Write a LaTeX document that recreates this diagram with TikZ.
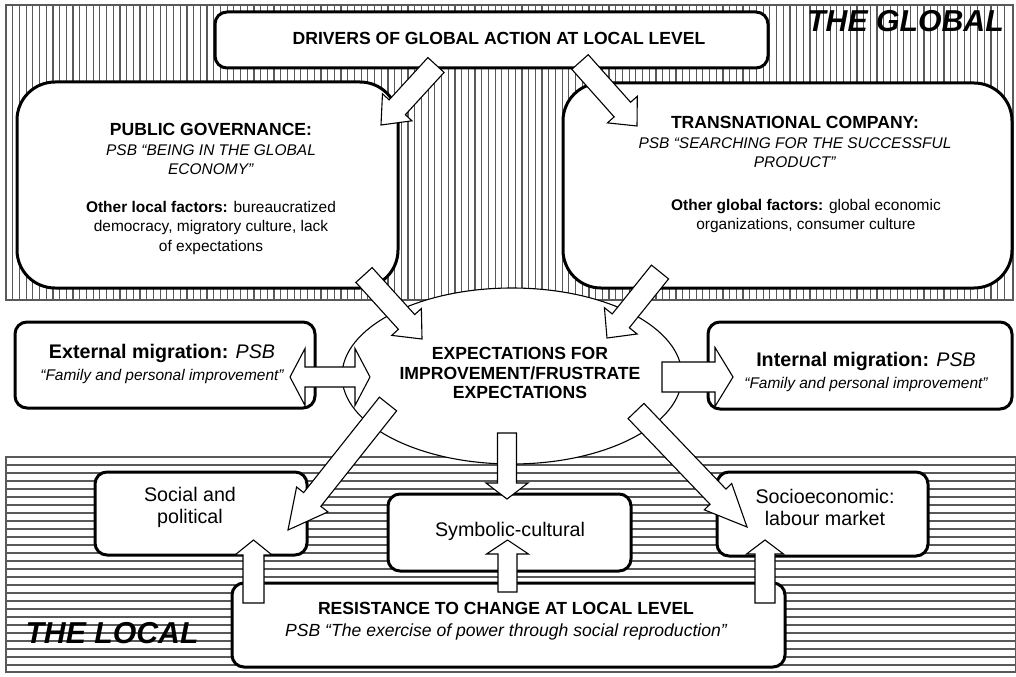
\documentclass[tikz,border=0pt]{standalone}
\usepackage{fontspec}
\setmainfont{Liberation Sans}
\usetikzlibrary{calc, shapes.geometric}

\newcommand{\pxu}{0.025cm}
\newcommand{\hd}{\fontsize{12.5}{13.9}\selectfont\bfseries}
% white block arrow: tail, tip, shaft half width, head half width, head length
\newcommand{\fatarrow}[5]{%
  \coordinate (fa-base) at ($(#2)!#5*\pxu!(#1)$);
  \draw[fatarrow] ($(#1)!#3*\pxu!90:(#2)$) -- ($(fa-base)!#3*\pxu!-90:(#1)$)
    -- ($(fa-base)!#4*\pxu!-90:(#1)$) -- (#2) -- ($(fa-base)!#4*\pxu!90:(#1)$)
    -- ($(fa-base)!#3*\pxu!90:(#1)$) -- ($(#1)!#3*\pxu!-90:(#2)$) -- cycle;}
% same with a head at both ends
\newcommand{\fatdarrow}[5]{%
  \coordinate (fa-b1) at ($(#1)!#5*\pxu!(#2)$);
  \coordinate (fa-b2) at ($(#2)!#5*\pxu!(#1)$);
  \draw[fatarrow] (#1) -- ($(fa-b1)!#4*\pxu!90:(#2)$) -- ($(fa-b1)!#3*\pxu!90:(#2)$)
    -- ($(fa-b2)!#3*\pxu!-90:(#1)$) -- ($(fa-b2)!#4*\pxu!-90:(#1)$) -- (#2)
    -- ($(fa-b2)!#4*\pxu!90:(#1)$) -- ($(fa-b2)!#3*\pxu!90:(#1)$)
    -- ($(fa-b1)!#3*\pxu!-90:(#2)$) -- ($(fa-b1)!#4*\pxu!-90:(#2)$) -- cycle;}

\begin{document}
\begin{tikzpicture}[x=\pxu, y=-\pxu,
    region/.style={draw=black!65, line width=1.3*\pxu},
    stripe/.style={black!65, line width=1.2*\pxu},
    lbox/.style={draw, fill=white, line width=3*\pxu, rounded corners=12*\pxu, inner sep=0pt},
    bigbox/.style={lbox, rounded corners=38*\pxu},
    fatarrow/.style={draw, fill=white, line width=1.1*\pxu, line join=miter},
    txt/.style={align=center, inner sep=0pt, font=\fontsize{11}{13.9}\selectfont},
    midtxt/.style={align=center, inner sep=0pt, font=\fontsize{14}{15.6}\selectfont},
    bigtxt/.style={inner sep=0pt, font=\fontsize{21.5}{24}\selectfont\bfseries\itshape}]
    \useasboundingbox (0,0) rectangle (1016,676);
    % the global: vertical stripes
    \foreach \x in {12.7,19.4,...,1010}
    \draw[stripe] (\x,5) -- (\x,300);
    \draw[region] (6,5) rectangle (1013,300);
    % the local: horizontal stripes
    \foreach \y in {465,473,...,665}
    \draw[stripe] (6,\y) -- (1016,\y);
    \draw[region] (6,457) rectangle (1016,672);
    \node[bigtxt] (global-lbl) at (905.5,21.5) {THE GLOBAL};
    \node[bigtxt] (local-lbl) at (112,633.5) {THE LOCAL};
    % boxes
    \node[lbox, minimum width=553*\pxu, minimum height=56*\pxu] (drivers) at (491.5,40) {};
    \node[bigbox, minimum width=381*\pxu, minimum height=206*\pxu] (pg) at (207.5,185) {};
    \node[bigbox, minimum width=449*\pxu, minimum height=205*\pxu] (tnc) at (787.5,185.5) {};
    \node[lbox, minimum width=300*\pxu, minimum height=86*\pxu] (extmig) at (165,365) {};
    \node[lbox, minimum width=304*\pxu, minimum height=87*\pxu] (intmig) at (860,365.5) {};
    \node[lbox, minimum width=212*\pxu, minimum height=83*\pxu] (sp) at (201,513.5) {};
    \node[lbox, minimum width=243*\pxu, minimum height=77*\pxu] (sc) at (509.5,532.5) {};
    \node[lbox, minimum width=211*\pxu, minimum height=84*\pxu] (se) at (822.5,514) {};
    \node[lbox, minimum width=553*\pxu, minimum height=84*\pxu] (res) at (508.5,625) {};
    \node[ellipse, draw, fill=white, line width=1.1*\pxu, inner sep=0pt,
      minimum width=340*\pxu, minimum height=176*\pxu] (ell) at (512,376) {};
    % texts
    \node[txt, font=\hd] (drivers-txt) at (499,38) {DRIVERS OF GLOBAL ACTION AT LOCAL LEVEL};
    \node[txt] (pg-txt) at (211,189) {{\hd PUBLIC GOVERNANCE:}\\ \textit{PSB “BEING IN THE GLOBAL}\\
      \textit{ECONOMY”}\\[0.45cm] \textbf{Other local factors:} bureaucratized\\
      democracy, migratory culture, lack\\ of expectations};
    \node[txt] (tnc-head) at (795,142) {{\hd TRANSNATIONAL COMPANY:}\\
      \textit{PSB “SEARCHING FOR THE SUCCESSFUL}\\ \textit{PRODUCT”}};
    \node[txt] (tnc-other) at (806,216) {\textbf{Other global factors:} global economic\\
      organizations, consumer culture};
    \node[midtxt] (ext-txt) at (162,364) {\textbf{External migration:} \textit{PSB}\\
      {\fontsize{11}{15.6}\selectfont\itshape “Family and personal improvement”}};
    \node[midtxt] (int-txt) at (866,372) {\textbf{Internal migration:} \textit{PSB}\\
      {\fontsize{11}{15.6}\selectfont\itshape “Family and personal improvement”}};
    \node[txt, font=\hd] (ell-txt) at (520,373) {EXPECTATIONS FOR\\ IMPROVEMENT/FRUSTRATE\\ EXPECTATIONS};
    \node[midtxt] (sp-txt) at (190,507) {Social and\\ political};
    \node[midtxt] (sc-txt) at (510,531) {Symbolic-cultural};
    \node[midtxt] (se-txt) at (825,507) {Socioeconomic:\\ labour market};
    \node[midtxt] (res-txt) at (506,621) {{\hd RESISTANCE TO CHANGE AT LOCAL LEVEL}\\
      {\fontsize{12.5}{15.6}\selectfont\itshape PSB “The exercise of power through social reproduction”}};
    % arrow ends
    \coordinate (a1s) at (436,65);    \coordinate (a1e) at (381,125);
    \coordinate (a2s) at (580,62);    \coordinate (a2e) at (637,126);
    \coordinate (a3s) at (364,275);   \coordinate (a3e) at (422,339);
    \coordinate (a4s) at (660,272);   \coordinate (a4e) at (607,338);
    \coordinate (a5s) at (388,404);   \coordinate (a5e) at (288,530);
    \coordinate (a6s) at (507,433);   \coordinate (a6e) at (507,499);
    \coordinate (a7s) at (636,411);   \coordinate (a7e) at (747,527);
    \coordinate (a8s) at (253.5,603); \coordinate (a8e) at (253.5,540);
    \coordinate (a9s) at (507.5,592); \coordinate (a9e) at (507.5,540);
    \coordinate (a10s) at (765,603);  \coordinate (a10e) at (765,540);
    \coordinate (mig-l) at (290,377); \coordinate (mig-r) at (370,377);
    \coordinate (int-s) at (662,377); \coordinate (int-e) at (733,377);
    % block arrows
    \fatarrow{a1s}{a1e}{11}{20}{24}
    \fatarrow{a2s}{a2e}{11}{20}{22}
    \fatarrow{a3s}{a3e}{11}{20}{23}
    \fatarrow{a4s}{a4e}{11}{21}{22}
    \fatarrow{a5s}{a5e}{11}{20}{39}
    \fatarrow{a6s}{a6e}{9.5}{21}{16}
    \fatarrow{a7s}{a7e}{11}{19}{42}
    \fatarrow{a8s}{a8e}{10.5}{18.5}{15}
    \fatarrow{a9s}{a9e}{9.5}{21}{14}
    \fatarrow{a10s}{a10e}{10}{18.5}{14}
    \fatdarrow{mig-l}{mig-r}{10}{28.5}{15}
    \fatarrow{int-s}{int-e}{15}{29.5}{18}
\end{tikzpicture}
\end{document}
